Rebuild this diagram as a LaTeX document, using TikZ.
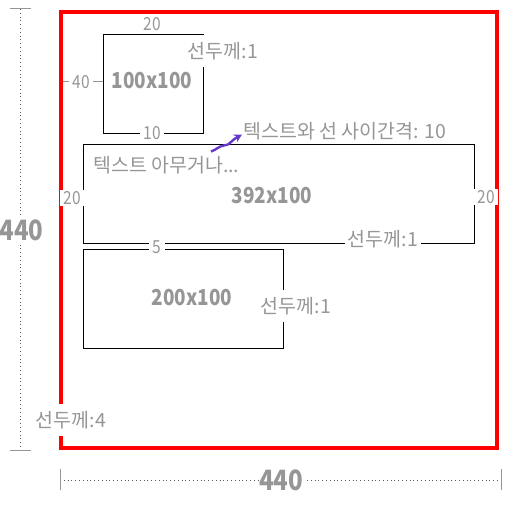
\documentclass[tikz,border=0pt]{standalone}
\usepackage{fontspec}
\setmainfont{Noto Sans CJK KR}
\usetikzlibrary{arrows.meta}
\definecolor{tgray}{RGB}{150,150,150}
\definecolor{fred}{RGB}{255,0,0}
\definecolor{apurple}{RGB}{102,56,204}
\definecolor{dotgray}{RGB}{90,90,90}
\newcommand{\cnd}[1]{\scalebox{0.86}[1]{#1}}
\begin{document}
\begin{tikzpicture}[x=1pt,y=-1pt,
  boxn/.style={draw=black,line width=1.1pt,inner sep=0pt,anchor=north west},
  sizetxt/.style={text=tgray,font=\fontsize{22}{24}\selectfont\bfseries,inner sep=0pt},
  numlbl/.style={text=tgray,font=\fontsize{18}{20}\selectfont,fill=white,inner xsep=3.5pt,inner ysep=1pt},
  korlbl/.style={text=tgray,font=\fontsize{19.5}{21}\selectfont,fill=white,inner xsep=3pt,inner ysep=0pt,minimum height=32pt},
  plaintxt/.style={text=tgray,font=\fontsize{19.5}{21}\selectfont,inner sep=0pt},
  bigdim/.style={text=tgray,font=\fontsize{28}{30}\selectfont\bfseries,fill=white,inner xsep=0.5pt,inner ysep=1pt},
  dimline/.style={dotgray,line width=0.8pt,dash pattern=on 0.8pt off 3pt},
  tick/.style={tgray,line width=1pt}]
\useasboundingbox (0,0) rectangle (518,505);

% red frame
\node[draw=fred,line width=4pt,minimum width=436pt,minimum height=436pt,inner sep=0pt] (frame) at (279,230) {};

% boxes
\node[boxn,minimum width=100pt,minimum height=99pt] (b1) at (103,34) {};
\node[boxn,minimum width=391pt,minimum height=99pt] (b2) at (83,144) {};
\node[boxn,minimum width=200pt,minimum height=99pt] (b3) at (83,249) {};

% 40 gap line
\coordinate (g40) at (63,82);
\draw[tick] (g40) -- (b1.west |- g40);

% size texts
\node[sizetxt] (t1) at (152,81) {\cnd{100x100}};
\node[sizetxt] (t2) at (272,196) {\cnd{392x100}};
\node[sizetxt] (t3) at (192,298) {\cnd{200x100}};

% labels
\node[text=tgray,font=\fontsize{18}{20}\selectfont,inner sep=0pt] (l20a) at (152,24) {\cnd{20}};
\node[korlbl] (lw1) at (223,51) {선두께:1};
\node[numlbl] (l40) at (81,82) {\cnd{40}};
\node[numlbl] (l10) at (152,133) {\cnd{10}};
\node[plaintxt,anchor=west] (lgap) at (243,131) {텍스트와 선 사이간격: 10};
\node[plaintxt,anchor=west] (lany) at (93,165) {텍스트 아무거나...};
\node[numlbl] (l20b) at (72,198) {\cnd{20}};
\node[numlbl] (l20c) at (486,197) {\cnd{20}};
\node[korlbl] (lw2) at (383,239) {선두께:1};
\node[numlbl] (l5) at (157,247) {\cnd{5}};
\node[korlbl] (lw3) at (296,306) {선두께:1};
\node[korlbl] (lw4) at (71,420) {선두께:4};

% purple arrow
\coordinate (as) at (211,151.5);
\coordinate (ae) at (242,134.5);
\draw[apurple,line width=2.4pt,-{Stealth[length=8pt,width=8.5pt]}] (as) .. controls (216,150) and (219,146) .. (224,145.5) -- (228,144.5) .. controls (231,143) and (232,140) .. (ae);

% left dimension
\coordinate (vt) at (20,9);
\coordinate (vb) at (20,450);
\draw[dimline] (vt) -- (vb);
\draw[tick] (10,9) -- (31,9);
\draw[tick] (10,450) -- (31,450);
\node[bigdim] (d1) at (21.5,230) {\cnd{440}};

% bottom dimension
\coordinate (hl) at (60,480);
\coordinate (hr) at (501,480);
\draw[dimline] (hl) -- (hr);
\draw[tick] (60,469) -- (60,490);
\draw[tick] (501,469) -- (501,490);
\node[bigdim] (d2) at (281,480) {\cnd{440}};
\end{tikzpicture}
\end{document}
